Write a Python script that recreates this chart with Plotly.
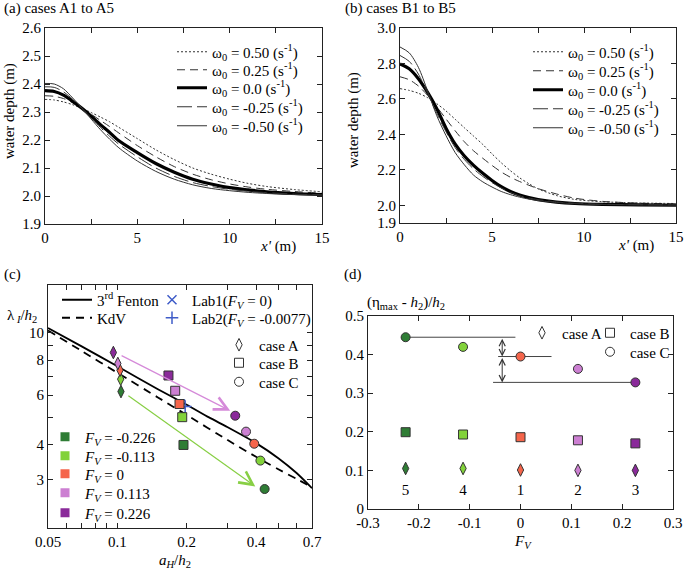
import math
import plotly.graph_objects as go

W, H = 685, 571
FONT = "Liberation Serif, serif"


def PX(x):
    return x / W


def PY(y):
    return 1 - y / H


# ---------------- data: panel (a) ----------------
omega_labels = ["0.50", "0.25", "0.0", "-0.25", "-0.50"]
xa = [0, 0.5, 1, 1.5, 2, 2.5, 3, 3.5, 4, 5, 6, 7, 8, 9, 10, 11, 12, 13.5, 15]
a_p050 = [2.345, 2.343, 2.336, 2.326, 2.313, 2.298, 2.282, 2.265, 2.245, 2.205, 2.165, 2.13, 2.1, 2.078, 2.06, 2.045, 2.034, 2.023, 2.015]
a_p025 = [2.358, 2.356, 2.348, 2.333, 2.313, 2.292, 2.27, 2.248, 2.225, 2.18, 2.14, 2.105, 2.078, 2.058, 2.043, 2.032, 2.024, 2.016, 2.01]
a_000 = [2.376, 2.373, 2.36, 2.338, 2.313, 2.285, 2.255, 2.227, 2.197, 2.155, 2.116, 2.085, 2.06, 2.043, 2.03, 2.022, 2.015, 2.009, 2.005]
a_m025 = [2.39, 2.388, 2.372, 2.345, 2.313, 2.28, 2.245, 2.213, 2.185, 2.14, 2.1, 2.07, 2.048, 2.034, 2.024, 2.017, 2.012, 2.007, 2.004]
a_m050 = [2.402, 2.4, 2.383, 2.35, 2.314, 2.275, 2.237, 2.203, 2.172, 2.125, 2.088, 2.06, 2.04, 2.027, 2.019, 2.013, 2.009, 2.005, 2.003]

# ---------------- data: panel (b) ----------------
xb = [0, 0.5, 1, 1.5, 2, 2.5, 3, 3.5, 4, 4.5, 5, 5.5, 6, 6.5, 7, 7.5, 8.5, 9.5, 11, 13, 15]
b_p050 = [2.658, 2.648, 2.632, 2.607, 2.573, 2.532, 2.485, 2.437, 2.39, 2.343, 2.29, 2.24, 2.195, 2.155, 2.122, 2.093, 2.055, 2.033, 2.02, 2.013, 2.01]
b_p025 = [2.725, 2.708, 2.673, 2.62, 2.555, 2.487, 2.42, 2.358, 2.307, 2.265, 2.225, 2.188, 2.158, 2.134, 2.113, 2.094, 2.064, 2.04, 2.022, 2.012, 2.008]
b_000 = [2.797, 2.77, 2.714, 2.637, 2.545, 2.435, 2.345, 2.278, 2.225, 2.18, 2.14, 2.105, 2.078, 2.058, 2.043, 2.032, 2.018, 2.01, 2.005, 2.002, 2.0]
b_m025 = [2.845, 2.812, 2.74, 2.632, 2.518, 2.415, 2.325, 2.258, 2.205, 2.163, 2.128, 2.098, 2.073, 2.054, 2.041, 2.032, 2.019, 2.012, 2.006, 2.003, 2.002]
b_m050 = [2.893, 2.86, 2.778, 2.645, 2.505, 2.393, 2.297, 2.228, 2.17, 2.132, 2.103, 2.078, 2.06, 2.046, 2.035, 2.027, 2.016, 2.009, 2.004, 2.002, 2.001]

# ---------------- data: panel (c) ----------------
fenton_aH = [0.05, 0.07, 0.1, 0.15, 0.2, 0.25, 0.3, 0.4, 0.5, 0.6, 0.7]
fenton_lam = [10.4, 8.95, 7.6, 6.3, 5.55, 5.0, 4.62, 4.05, 3.58, 3.17, 2.80]
kdv_aH = [0.05, 0.07, 0.1, 0.15, 0.2, 0.3, 0.4, 0.5, 0.6, 0.68]
kdv_lam = [10.2, 8.62, 7.21, 5.89, 5.1, 4.16, 3.62, 3.27, 3.02, 2.86]

FV = [-0.226, -0.113, 0, 0.113, 0.226]
FV_labels = ["-0.226", "-0.113", "0", "0.113", "0.226"]
fv_colors = ["#2f7d35", "#82d23a", "#f5654b", "#cc7fd2", "#8a2a9a"]

caseA_aH = [0.1037, 0.1034, 0.1027, 0.1005, 0.0961]
caseA_lam = [6.18, 6.84, 7.36, 7.78, 8.51]
caseB_aH = [0.1937, 0.1913, 0.1862, 0.1783, 0.1667]
caseB_lam = [3.99, 5.01, 5.58, 6.22, 7.05]
caseC_aH = [0.436, 0.418, 0.393, 0.362, 0.325]
caseC_lam = [2.78, 3.51, 4.03, 4.45, 5.07]

lab1_aH, lab1_lam = [0.188], [5.58]
lab2_aH, lab2_lam = [0.197], [5.47]

arrow_purple = [(0.1028, 8.35), (0.309, 5.28)]
arrow_green = [(0.110, 6.02), (0.397, 2.84)]

# ---------------- data: panel (d) ----------------
caseA_eta = [0.105, 0.105, 0.101, 0.100, 0.100]
caseB_eta = [0.199, 0.193, 0.186, 0.178, 0.170]
caseC_eta = [0.445, 0.420, 0.395, 0.363, 0.328]
case_numbers = ["5", "4", "1", "2", "3"]
number_y = 0.045
guide_x_ends = [-0.01, (-0.044, 0.061), -0.054]
guide_arrow_x = -0.036

# ---------------- figure ----------------
fig = go.Figure()
legend_layouts = {}
_leg_count = [0]


def new_legend(x, y):
    """one legend per entry, placed at the entry's left edge / vertical centre (pixels)"""
    _leg_count[0] += 1
    n = _leg_count[0]
    key = "legend" if n == 1 else "legend%d" % n
    legend_layouts[key] = dict(
        x=PX(x), y=PY(y), xanchor="left", yanchor="middle",
        bgcolor="rgba(0,0,0,0)", borderwidth=0,
        font=dict(size=15, color="black", family=FONT))
    return key


line_styles = [
    dict(dash="2px,2px", width=1.0, color="#333"),
    dict(dash="8px,5px", width=1.0, color="#333"),
    dict(dash="solid", width=3.2, color="#000"),
    dict(dash="15px,5px", width=1.0, color="#333"),
    dict(dash="solid", width=1.0, color="#333"),
]

rows_a = [52, 70, 88, 107, 126]
for lab, ys, st, ry in zip(omega_labels, [a_p050, a_p025, a_000, a_m025, a_m050], line_styles, rows_a):
    fig.add_trace(go.Scatter(
        x=xa, y=ys, mode="lines", xaxis="x", yaxis="y", legend=new_legend(172, ry),
        name="ω<sub>0</sub> = %s (s<sup>-1</sup>)" % lab,
        line=dict(shape="spline", smoothing=0.8, **st)))

rows_b = [52, 71, 90, 109, 128]
for lab, ys, st, ry in zip(omega_labels, [b_p050, b_p025, b_000, b_m025, b_m050], line_styles, rows_b):
    fig.add_trace(go.Scatter(
        x=xb, y=ys, mode="lines", xaxis="x2", yaxis="y2", legend=new_legend(528, ry),
        name="ω<sub>0</sub> = %s (s<sup>-1</sup>)" % lab,
        line=dict(shape="spline", smoothing=0.8, **st)))

# panel (c) curves
fig.add_trace(go.Scatter(x=fenton_aH, y=fenton_lam, mode="lines", xaxis="x3", yaxis="y3",
                         legend=new_legend(57, 300), name="3<sup>rd</sup> Fenton",
                         line=dict(color="#000", width=1.8, shape="spline", smoothing=0.6)))
fig.add_trace(go.Scatter(x=kdv_aH, y=kdv_lam, mode="lines", xaxis="x3", yaxis="y3",
                         legend=new_legend(57, 318), name="KdV",
                         line=dict(color="#000", width=1.8, dash="8px,6px", shape="spline", smoothing=0.6)))

BLUE = "#3f5cc8"
fig.add_trace(go.Scatter(x=lab1_aH, y=lab1_lam, mode="markers", xaxis="x3", yaxis="y3",
                         legend=new_legend(152, 300), name="Lab1(<i>F<sub>V</sub></i> = 0)",
                         marker=dict(symbol="x-thin", size=9, line=dict(color=BLUE, width=1.5))))
fig.add_trace(go.Scatter(x=lab2_aH, y=lab2_lam, mode="markers", xaxis="x3", yaxis="y3",
                         legend=new_legend(152, 318), name="Lab2(<i>F<sub>V</sub></i> = -0.0077)",
                         marker=dict(symbol="cross-thin", size=9, line=dict(color=BLUE, width=1.5))))

symbols = ["diamond-tall", "square", "circle"]
sizes = [9, 9, 9]
for xs, ys, sym, sz in zip([caseA_aH, caseB_aH, caseC_aH], [caseA_lam, caseB_lam, caseC_lam], symbols, sizes):
    fig.add_trace(go.Scatter(x=xs, y=ys, mode="markers", xaxis="x3", yaxis="y3", showlegend=False,
                             marker=dict(symbol=sym, size=sz, color=fv_colors,
                                         line=dict(color="#333", width=1))))

for sym, nm, ry in zip(symbols, ["case A", "case B", "case C"], [345, 363, 382]):
    fig.add_trace(go.Scatter(x=[None], y=[None], mode="markers", xaxis="x3", yaxis="y3",
                             legend=new_legend(219, ry), name=nm,
                             marker=dict(symbol=sym, size=9, color="white",
                                         line=dict(color="#333", width=1))))

for col, lab, ry in zip(fv_colors, FV_labels, [437, 456, 474, 493, 513]):
    fig.add_trace(go.Scatter(x=[None], y=[None], mode="markers", xaxis="x3", yaxis="y3",
                             legend=new_legend(45, ry), name="<i>F<sub>V</sub></i> = %s" % lab,
                             marker=dict(symbol="square", size=9, color=col)))

# panel (d)
gx = [[FV[0], guide_x_ends[0]], list(guide_x_ends[1]), [guide_x_ends[2], FV[4]]]
gy = [caseC_eta[0], caseC_eta[2], caseC_eta[4]]
for xs, yv in zip(gx, gy):
    fig.add_trace(go.Scatter(x=xs, y=[yv, yv], mode="lines", xaxis="x4", yaxis="y4", showlegend=False,
                             line=dict(color="#444", width=1)))

for ys, sym in zip([caseA_eta, caseB_eta, caseC_eta], symbols):
    fig.add_trace(go.Scatter(x=FV, y=ys, mode="markers", xaxis="x4", yaxis="y4", showlegend=False,
                             marker=dict(symbol=sym, size=9, color=fv_colors,
                                         line=dict(color="#333", width=1))))

fig.add_trace(go.Scatter(x=FV, y=[number_y] * len(FV), mode="text", text=case_numbers,
                         xaxis="x4", yaxis="y4", showlegend=False,
                         textfont=dict(size=15, color="black", family=FONT)))

for sym, nm, lx, ry in zip(symbols, ["case A", "case B", "case C"], [522, 590, 590], [333, 333, 352]):
    fig.add_trace(go.Scatter(x=[None], y=[None], mode="markers", xaxis="x4", yaxis="y4",
                             legend=new_legend(lx, ry), name=nm,
                             marker=dict(symbol=sym, size=9, color="white",
                                         line=dict(color="#333", width=1))))


# ---------------- axes ----------------
def axis(**kw):
    d = dict(showline=True, linecolor="#222", linewidth=1, mirror="ticks", ticks="inside",
             ticklen=5, tickcolor="#222", tickwidth=1, showgrid=False, zeroline=False,
             automargin=False, tickfont=dict(size=15, color="black", family=FONT))
    d.update(kw)
    return d


xticks_a = [0, 2.5, 5, 7.5, 10, 12.5, 15]
xtext_a = ["0", "", "5", "", "10", "", "15"]

fig.update_layout(
    xaxis=axis(domain=[PX(45), PX(322)], range=[0, 15], tickvals=xticks_a, ticktext=xtext_a, anchor="y"),
    yaxis=axis(domain=[PY(224), PY(28)], range=[1.9, 2.6], dtick=0.1, tickformat=".1f", anchor="x"),
    xaxis2=axis(domain=[PX(400), PX(676)], range=[0, 15], tickvals=xticks_a, ticktext=xtext_a, anchor="y2"),
    yaxis2=axis(domain=[PY(223), PY(28)], range=[1.9, 3.0],
                tickvals=[1.9, 2.0, 2.2, 2.4, 2.6, 2.8, 3.0], tickformat=".1f", anchor="x2"),
    xaxis3=axis(domain=[PX(48), PX(312)], type="log", range=[math.log10(0.05), math.log10(0.7)],
                tickvals=[0.05, 0.1, 0.2, 0.4, 0.7], ticktext=["0.05", "0.1", "0.2", "0.4", "0.7"],
                minor=dict(tickvals=[0.06, 0.07, 0.08, 0.09, 0.3, 0.5, 0.6], ticks="inside",
                           ticklen=5, tickcolor="#222"),
                anchor="y3"),
    yaxis3=axis(domain=[PY(528), PY(285)], type="log", range=[math.log10(2.02), math.log10(14.8)],
                tickvals=[3, 4, 6, 8, 10], ticktext=["3", "4", "6", "8", "10"],
                minor=dict(tickvals=[5, 7, 9], ticks="inside", ticklen=5, tickcolor="#222"),
                anchor="x3"),
    xaxis4=axis(domain=[PX(368), PX(673)], range=[-0.3, 0.3],
                tickvals=[-0.3, -0.2, -0.1, 0, 0.1, 0.2, 0.3],
                ticktext=["-0.3", "-0.2", "-0.1", "0", "0.1", "0.2", "0.3"], anchor="y4"),
    yaxis4=axis(domain=[PY(509), PY(316)], range=[0, 0.5],
                tickvals=[0, 0.1, 0.2, 0.3, 0.4, 0.5],
                ticktext=["0", "0.1", "0.2", "0.3", "0.4", "0.5"], anchor="x4"),
)
fig.update_layout(**legend_layouts)

ann = []


def text(x, y, t, size=15, angle=0, xanchor="center"):
    ann.append(dict(x=PX(x), y=PY(y), xref="paper", yref="paper", text=t, showarrow=False,
                    textangle=angle, xanchor=xanchor, yanchor="middle",
                    font=dict(size=size, color="black", family=FONT)))


text(2, 8, "(a) cases A1 to A5", xanchor="left")
text(343, 8, "(b) cases B1 to B5", xanchor="left")
text(2, 274, "(c)", xanchor="left")
text(342, 274, "(d)", xanchor="left")
text(9, 111, "water depth (m)", angle=-90)
text(354, 120, "water depth (m)", angle=-90)
text(278, 246, "<i>x'</i> (m)")
text(636, 245, "<i>x'</i> (m)")
text(22, 316, "λ<sub> <i>I</i></sub>/<i>h</i><sub>2</sub>")
text(175, 561, "<i>a<sub>H</sub></i>/<i>h</i><sub>2</sub>")
text(365, 303, "(η<sub>max</sub> - <i>h</i><sub>2</sub>)/<i>h</i><sub>2</sub>", xanchor="left")
text(523, 542, "<i>F<sub>V</sub></i>")

# arrows in panel (c) (log axes -> log10 coordinates)
for (p0, p1), col in zip([arrow_purple, arrow_green], ["#d58ad9", "#88cf45"]):
    ann.append(dict(x=math.log10(p1[0]), y=math.log10(p1[1]), ax=math.log10(p0[0]), ay=math.log10(p0[1]),
                    xref="x3", yref="y3", axref="x3", ayref="y3", text="", showarrow=True,
                    arrowhead=5, arrowsize=2.2, arrowwidth=1.2, arrowcolor=col, standoff=0))

# double arrows in panel (d)
for y0, y1 in [(caseC_eta[0], caseC_eta[2]), (caseC_eta[2], caseC_eta[4])]:
    ann.append(dict(x=guide_arrow_x, y=y1, ax=guide_arrow_x, ay=y0, xref="x4", yref="y4",
                    axref="x4", ayref="y4", text="", showarrow=True, arrowside="end+start",
                    arrowhead=5, startarrowhead=5, arrowsize=1.2, startarrowsize=1.2,
                    arrowwidth=1, arrowcolor="#333", standoff=0, startstandoff=0))

fig.update_layout(
    annotations=ann,
    width=W, height=H,
    margin=dict(l=0, r=0, t=0, b=0),
    paper_bgcolor="white", plot_bgcolor="white",
    font=dict(family=FONT, size=15, color="black"),
    showlegend=True,
)

fig.write_html("out.html", config={"displayModeBar": False},
               post_script="document.body.style.margin='0';")
